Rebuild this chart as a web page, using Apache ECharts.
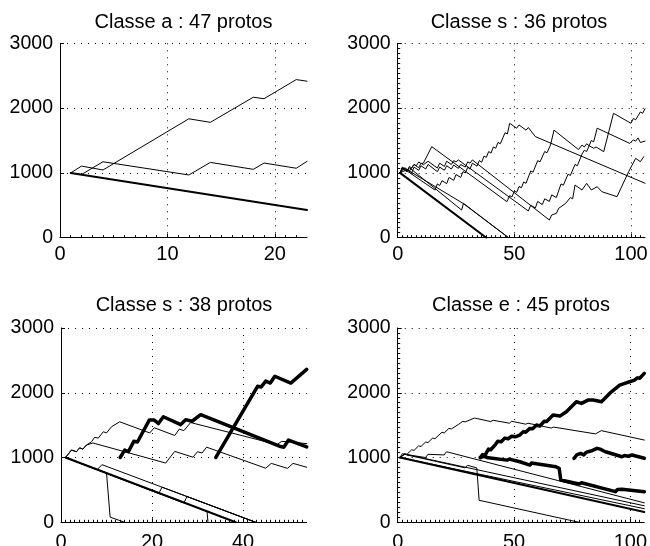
<!DOCTYPE html>
<html><head><meta charset="utf-8">
<script src="https://cdn.jsdelivr.net/npm/echarts@6/dist/echarts.min.js"></script>
<style>html,body{margin:0;padding:0;background:#fff}#c{width:650px;height:546px}</style>
</head><body><div id="c"></div>
<script>
// ---------- titles ----------
const titles = ["Classe a : 47 protos", "Classe s : 36 protos", "Classe s : 38 protos", "Classe e : 45 protos"];
// ---------- tick labels ----------
const yTicks = [0, 1000, 2000, 3000];
const xTicks1 = [0, 10, 20];
const xTicks2 = [0, 50, 100];
const xTicks3 = [0, 20, 40];
const xTicks4 = [0, 50, 100];
const xMax = [23, 106, 54, 106];

// ---------- panel 1 : [iteration, score] ----------
const p1_base = [[1,1000],[23,428]];
const p1_a = [[1,1000],[2,1105],[4,1045],[12,1835],[14,1780],[18,2168],[19,2145],[22,2440],[23,2415]];
const p1_b = [[1,1000],[2,975],[4,1172],[12,968],[14,1162],[18,1055],[19,1152],[22,1072],[23,1178]];

// ---------- panel 2 ----------
const p2_base = [[1,1000],[38,0]];
const p2_b = [[1,1000],[2,1090],[3,1065],[4,1050],[28,530],[47.5,0]];
const p2_c = [[1,1000],[2,1070],[4,1020],[5,1080],[27.4,427],[28.2,530],[47.5,0]];
const p2_d = [[1,1000],[2,1080],[3,1055],[16,735],[17,830],[18,805],[19,880],[21,835],[22,930],[24,885],[25,975],[27,930],[28,1020],[29,1000],[30,1085],[31,1060],[32,1150],[34,1105],[35,1190],[36,1165],[37,1260],[38,1240],[39,1330],[40,1305],[41,1400],[42,1380],[43,1470],[44,1450],[46,1620],[47,1600],[48,1765],[51,1690],[52,1740],[55,1660],[56,1700],[59,1560],[106,840]];
const p2_e = [[1,1000],[2,1060],[4,1020],[5,1100],[6,1075],[7,1130],[8,1110],[9,1170],[10,1145],[11,1150],[14.6,1405],[46.8,556],[48,650],[49,630],[50,720],[51,700],[52,790],[53,770],[54,860],[55,840],[57,1030],[58,1010],[60,1190],[61,1170],[63,1330],[64,1310],[65.5,1430],[67,1660],[77.5,1360],[79,1430],[80,1400],[81,1450],[82,1420],[84,1380],[85,1400],[88.3,1328],[92.5,1920],[100,1765],[101,1840],[102,1820],[104,1940],[105,1920],[106,1990]];
const p2_f = [[1,1000],[3,1080],[5,1030],[7,1130],[9,1080],[10,1150],[11,1125],[13,1180],[17,1075],[18,1150],[20,1100],[21,1180],[23,1130],[24,1190],[25,1170],[26,1200],[56,412],[57,500],[59,460],[60,560],[62,510],[63,600],[65,560],[66,660],[68,620],[70,830],[71,810],[73,980],[74,960],[76,1130],[77,1110],[79,1290],[80,1350],[81,1330],[83,1500],[84,1480],[85.5,1690],[99.5,1455],[101,1510],[102,1490],[103,1540],[104,1470],[106,1490]];
const p2_g = [[1,1000],[4,1050],[6,1000],[7,1090],[9,1040],[10,1110],[12,1060],[13,1130],[17,1020],[18,1090],[20,1040],[21,1110],[23,1060],[24,1120],[26,1070],[27,1130],[29,1090],[30,1170],[31,1150],[32,1200],[65,273],[66,350],[68,376],[69,453],[72,530],[74,620],[75,600],[76,813],[79,736],[81,839],[83,736],[85.5,787],[87.5,710],[94,633],[99,1019],[102,1225],[104,1174],[105.5,1251]];

// ---------- panel 3 ----------
const p3_base = [[1,1000],[38.4,0]];
const p3_par = [[1,1000],[8,815],[9,890],[42.8,0]];
const p3_drop = [[1,1000],[10,762],[10.8,80],[14,0]];
const p3_box1 = [[1,1000],[21.5,446],[22.2,543],[42.8,0]];
const p3_box2 = [[1,1000],[27,298],[27.7,398],[42.8,0]];
const p3_drop2 = [[1,1000],[32.1,168],[32.3,0]];
const p3_up = [[1,1000],[2.3,1116],[3.4,1090],[4.1,1150],[4.8,1130],[5.6,1193],[6.7,1244],[7.4,1312],[8.2,1300],[9.3,1398],[10,1380],[11.1,1475],[12.9,1552],[19.5,1380],[20.5,1460],[25,1340],[26,1440],[27,1415],[28.5,1540],[47.5,1200],[48.5,1250],[54,1215]];
const p3_low = [[1,1000],[2.3,1116],[3.4,1090],[4.1,1150],[4.8,1130],[5.6,1193],[7,1225],[23,915],[25,1095],[29,1005],[30,1090],[31,1070],[32,1160],[45,835],[46.2,910],[49.8,833],[51,910],[54,850]];
const p3_t1 = [[13,1000],[14,1115],[14.8,1090],[16,1250],[16.8,1240],[19.4,1578],[20.5,1578],[21.4,1525],[22.5,1630],[26.3,1508],[27.4,1585],[28.8,1560],[30.7,1662],[48,1175],[49,1160],[50,1270],[54,1165]];
const p3_t2 = [[34,1000],[43.2,2100],[44,2090],[45,2180],[46,2150],[47,2255],[50.5,2150],[54,2360]];

// ---------- panel 4 ----------
const p4_base = [[1,1000],[106,160]];
const p4_l1 = [[1,1000],[2,1060],[3,1050],[12,1000],[13,1050],[20,1040],[21,1090],[22,1080],[106,300]];
const p4_l2 = [[1,1000],[3,1050],[4,1045],[106,255]];
const p4_l3 = [[1,1000],[106,210]];
const p4_drop = [[1,1000],[3,1050],[4,1040],[29,840],[30,880],[34,840],[35,340],[78,0]];
const p4_up = [[1,1000],[3,1060],[4,1050],[6,1120],[7,1110],[9,1180],[10,1170],[12,1240],[13,1230],[15,1300],[16,1290],[19,1390],[20,1380],[22,1450],[23,1440],[26,1508],[28,1560],[29,1550],[33,1610],[40,1555],[41,1575],[48,1530],[49,1560],[55,1515],[56,1530],[66,1455],[67,1470],[85,1365],[87.5,1415],[106,1270]];
const p4_t1 = [[35.5,1000],[36.5,1045],[37.5,1035],[39,1130],[40,1120],[42,1200],[43,1250],[44.5,1245],[46,1300],[47.5,1290],[49,1330],[50.5,1320],[52.5,1347],[54,1400],[55,1390],[56.8,1450],[58,1445],[59.7,1502],[61.1,1486],[63,1560],[64,1555],[66.8,1656],[69.7,1640],[72.5,1707],[74,1760],[76.8,1861],[79,1836],[81.8,1887],[84,1887],[87.6,1861],[91.1,1990],[95.4,2119],[97.6,2145],[99.7,2170],[101.8,2196],[103,2230],[104,2225],[106,2299]];
const p4_t2 = [[35.5,1000],[37,1020],[39,995],[47,960],[48,975],[52.5,935],[56.8,884],[57.5,915],[68,858],[69.4,833],[70.1,653],[78,591],[79,611],[93.6,473],[94.5,505],[96.4,509],[106,473]];
const p4_t3 = [[75.8,988],[77,1040],[78.6,1064],[80,1040],[81,1080],[83,1100],[85.7,1142],[87,1130],[89.3,1090],[96.4,1012],[97.5,1030],[99,1020],[100.7,1039],[106,988]];

// ---------- build ----------
const FONT = 'Liberation Sans';
const grids = [
  {left: 60, top: 43.3, width: 247, height: 194.4, outerBoundsMode: 'none'},
  {left: 397.7, top: 43.3, width: 247.3, height: 194.4, outerBoundsMode: 'none'},
  {left: 61, top: 328, width: 245.7, height: 194.3, outerBoundsMode: 'none'},
  {left: 397.7, top: 328, width: 246.6, height: 194.3, outerBoundsMode: 'none'}
];
const xTickSets = [xTicks1, xTicks2, xTicks3, xTicks4];
const xIntervals = [10, 50, 20, 50];
const xMinorSplit = [10, 25, 20, 25];
const yMinorShow = [false, true, false, true];
const labelMarginX = [7, 7, 10, 10];
const dotted = {color: '#000', width: 1, type: [1, 6]};

const xAxes = grids.map((g, i) => ({
  type: 'value', gridIndex: i, min: 0, max: xMax[i], interval: xIntervals[i],
  axisLine: {show: true, onZero: false, lineStyle: {color: '#000', width: 1}},
  axisTick: {show: true, inside: true, length: 4, customValues: xTickSets[i], lineStyle: {color: '#000'}},
  minorTick: {show: true, splitNumber: xMinorSplit[i], length: 2.5, lineStyle: {color: '#000'}},
  axisLabel: {customValues: xTickSets[i], color: '#000', fontFamily: FONT, fontSize: 20, margin: labelMarginX[i]},
  splitLine: {show: true, lineStyle: dotted}
}));
const yAxes = grids.map((g, i) => ({
  type: 'value', gridIndex: i, min: 0, max: 3000, interval: 1000,
  axisLine: {show: true, lineStyle: {color: '#000', width: 1}},
  axisTick: {show: true, inside: true, length: 4, lineStyle: {color: '#000'}},
  minorTick: {show: yMinorShow[i], splitNumber: 13, length: 2.5, lineStyle: {color: '#000'}},
  axisLabel: {color: '#000', fontFamily: FONT, fontSize: 19.5, margin: 7,
    formatter: v => yTicks.includes(v) ? String(v) : ''},
  splitLine: {show: true, lineStyle: dotted}
}));

const panels = [
  [[p1_base, 2], [p1_a, 1], [p1_b, 1]],
  [[p2_base, 2], [p2_b, 1], [p2_c, 1], [p2_d, 1], [p2_e, 1], [p2_f, 1], [p2_g, 1]],
  [[p3_base, 2], [p3_par, 1], [p3_drop, 1], [p3_box1, 1], [p3_box2, 1], [p3_drop2, 1], [p3_up, 1], [p3_low, 1], [p3_t1, 3.5], [p3_t2, 3.5]],
  [[p4_base, 2], [p4_l1, 1], [p4_l2, 1], [p4_l3, 1], [p4_drop, 1], [p4_up, 1], [p4_t1, 3.5], [p4_t2, 3.5], [p4_t3, 3.5]]
];
const series = [];
panels.forEach((list, i) => list.forEach(([data, w]) => series.push({
  type: 'line', xAxisIndex: i, yAxisIndex: i, data: data, showSymbol: false, symbol: 'none',
  lineStyle: {color: '#000', width: w, join: 'round', cap: 'round'}, silent: true, clip: true
})));

const titleCenters = [[183.5, 12], [519, 12], [184, 295], [521, 295]];
const option = {
  animation: false,
  backgroundColor: '#fff',
  title: titles.map((t, i) => ({
    text: t, left: titleCenters[i][0], top: titleCenters[i][1], textAlign: 'center', padding: 0,
    textStyle: {fontFamily: FONT, fontSize: 20, fontWeight: 'normal', color: '#000'}
  })),
  grid: grids,
  xAxis: xAxes,
  yAxis: yAxes,
  series: series
};
const chart = echarts.init(document.getElementById('c'), null, {renderer: 'canvas'});
chart.setOption(option);
</script>
</body></html>
